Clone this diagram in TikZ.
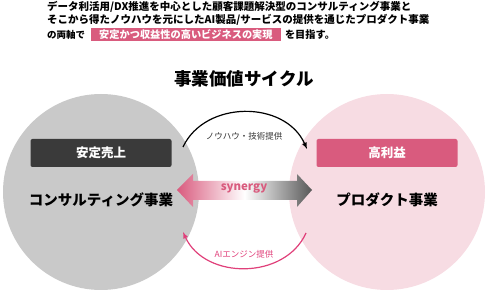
\documentclass[tikz,border=0pt]{standalone}
\usepackage{fontspec}
\setmainfont{Noto Sans CJK JP}
\usepackage{xcolor}
\usetikzlibrary{arrows}
\usetikzlibrary{math, positioning}
\definecolor{rosa}{HTML}{D95B7E}
\definecolor{rosabg}{HTML}{F7DCE3}
\definecolor{rosaline}{HTML}{E0407A}
\definecolor{grau}{HTML}{C9C9C9}
\definecolor{dunkel}{HTML}{3A3A3A}

\begin{document}
\begin{tikzpicture}[x=1pt,y=-1pt,
  intro/.style={font=\fontsize{10.5}{11}\selectfont\bfseries,inner sep=0pt},
  badge/.style={rounded corners=2pt,minimum width=141pt,minimum height=28pt,text=white,font=\fontsize{12.5}{13}\selectfont\bfseries},
  biz/.style={font=\fontsize{14.5}{15}\selectfont\bfseries},
  flow/.style={font=\fontsize{8.5}{9}\selectfont}]
\tikzmath{
\r=98;
\yc=192;
}
\useasboundingbox (0,0) rectangle (488,291);

% intro
\node[intro,anchor=west] (l1) at (47,7) {データ利活用/DX推進を中心とした顧客課題解決型のコンサルティング事業と};
\node[intro,anchor=west] (l2) at (47,20) {そこから得たノウハウを元にしたAI製品/サービスの提供を通じたプロダクト事業};
\node[intro,anchor=west,font=\fontsize{9.5}{10}\selectfont\bfseries] (l3) at (47,35) {の両軸で};
\node[intro,anchor=west,fill=rosa,text=white,minimum height=13pt,inner xsep=8pt,
  font=\fontsize{10.2}{11}\selectfont\bfseries] (goal) at (91,35) {安定かつ収益性の高いビジネスの実現};
\node[intro,right=4pt of goal,font=\fontsize{10.2}{11}\selectfont\bfseries] (l3b) {を目指す。};

\node[font=\fontsize{17.5}{18}\selectfont\bfseries] (title) at (244,79) {事業価値サイクル};

% circles
\node[circle,fill=grau,minimum size=2*\r pt] (lc) at (101,\yc) {};
\node[circle,fill=rosabg,minimum size=2*\r pt] (rc) at (387,\yc) {};

\node[badge,fill=dunkel] (sales) at (101,153) {安定売上};
\node[badge,fill=rosa] (profit) at (387,153) {高利益};
\node[biz] (cons) at (101,200) {コンサルティング事業};
\node[biz] (prod) at (387,200) {プロダクト事業};

% synergy
\shade[left color=rosa,right color=dunkel!85,middle color=white]
  (177,190) -- (193,174) -- (193,181) -- (297,181) -- (297,174) -- (312,190)
  -- (297,207) -- (297,200) -- (193,200) -- (193,207) -- cycle;
\node[font=\fontsize{11.5}{12}\selectfont\bfseries,text=rosa] (syn) at (244,189) {synergy};

% cycle
\coordinate (ka) at (183,147);
\coordinate (kb) at (307,149);
\coordinate (aa) at (306,233);
\coordinate (ab) at (183,232);
\draw[-latex,line width=1.2pt] (ka) .. controls (205,100) and (285,100) .. (kb);
\node[flow,text=black!80] (know) at (244,136) {ノウハウ・技術提供};
\draw[-latex,line width=1.2pt,rosaline] (aa) .. controls (285,280) and (205,280) .. (ab);
\node[flow,text=rosaline] (ai) at (244,254) {AIエンジン提供};
\end{tikzpicture}
\end{document}
